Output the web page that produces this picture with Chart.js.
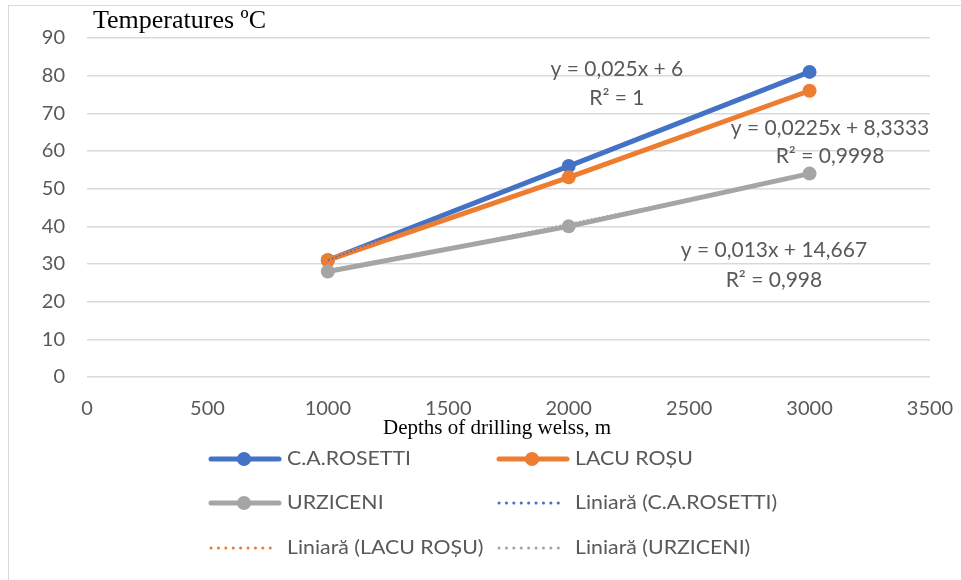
<!DOCTYPE html>
<html>
<head>
<meta charset="utf-8">
<script src="https://cdn.jsdelivr.net/npm/chart.js@4"></script>
<style>
  body { margin: 0; background: #fff; }
  .frame { position: absolute; left: 8px; top: 5px; width: 1200px; height: 900px; border: 1px solid #d9d9d9; }
  .wrap { position: absolute; left: 0; top: 0; width: 961px; height: 580px; }
</style>
</head>
<body>
<div class="frame"></div>
<div class="wrap"><canvas id="myChart" width="961" height="580"></canvas></div>
<script>
// depths (m) and measured temperatures (ºC)
const depths = [1000, 2000, 3000];
const rosetti = [31, 56, 81];
const lacuRosu = [31, 53, 76];
const urziceni = [28, 40, 54];

// linear trend values
const rosettiTrend = [31, 56, 81];
const lacuTrend = [30.8, 53.3, 75.8];
const urziTrend = [27.7, 40.7, 53.7];

const seriesNames = ['C.A.ROSETTI', 'LACU ROȘU', 'URZICENI'];
const trendNames = ['Liniară (C.A.ROSETTI)', 'Liniară (LACU ROȘU)', 'Liniară (URZICENI)'];
const equations = ['y = 0,025x + 6', 'y = 0,0225x + 8,3333', 'y = 0,013x + 14,667'];
const rSquared = ['R² = 1', 'R² = 0,9998', 'R² = 0,998'];

const yTitle = 'Temperatures ºC';
const xTitle = 'Depths of drilling welss, m';

const colors = ['#4472C4', '#ED7D31', '#A5A5A5'];
const textGray = '#595959';
const sansFont = 'Lato, "Open Sans", sans-serif';
const serifFont = '"Liberation Serif", "DejaVu Serif", serif';

function pts(ys) {
	return depths.map((d, i) => ({ x: d, y: ys[i] }));
}

const values = [rosetti, lacuRosu, urziceni];
const trends = [rosettiTrend, lacuTrend, urziTrend];

const datasets = [];
values.forEach((v, i) => {
	datasets.push({
		label: seriesNames[i],
		data: pts(v),
		borderColor: colors[i],
		backgroundColor: colors[i],
		borderWidth: 5,
		pointRadius: 7,
		pointBorderWidth: 0,
		order: 4 - i,
	});
});
trends.forEach((v, i) => {
	datasets.push({
		label: trendNames[i],
		data: pts(v),
		borderColor: colors[i],
		borderWidth: 1.5,
		borderDash: [2, 2],
		pointRadius: 0,
		order: 0,
	});
});

// where equation labels sit (data coords: x, y of first line, y of second line)
const eqAnchors = [
	[2200, 81.8, 74.1],
	[3085, 66.1, 58.5],
	[2852, 33.7, 25.8],
];

// legend layout
const legendCols = [209, 497];
const legendRows = [459, 503, 548];
const legendStretch = 124; // px width of "C.A.ROSETTI" in the source
const legendItems = [
	{ name: seriesNames[0], c: 0, trend: false, col: 0, row: 0 },
	{ name: seriesNames[1], c: 1, trend: false, col: 1, row: 0 },
	{ name: seriesNames[2], c: 2, trend: false, col: 0, row: 1 },
	{ name: trendNames[0], c: 0, trend: true, col: 1, row: 1 },
	{ name: trendNames[1], c: 1, trend: true, col: 0, row: 2 },
	{ name: trendNames[2], c: 2, trend: true, col: 1, row: 2 },
];

const decor = {
	id: 'decor',
	afterDraw(chart) {
		const ctx = chart.ctx;
		const xs = chart.scales.x;
		const ys = chart.scales.y;
		ctx.save();

		// axis titles
		ctx.fillStyle = '#000';
		ctx.textBaseline = 'middle';
		ctx.textAlign = 'left';
		ctx.font = '26px ' + serifFont;
		ctx.fillText(yTitle, 93, 21);
		ctx.textAlign = 'center';
		ctx.font = '21px ' + serifFont;
		ctx.fillText(xTitle, 497, 428);

		// trendline equations
		ctx.fillStyle = textGray;
		ctx.font = '21px ' + sansFont;
		eqAnchors.forEach((a, i) => {
			const px = xs.getPixelForValue(a[0]);
			ctx.fillText(equations[i], px, ys.getPixelForValue(a[1]));
			ctx.fillText(rSquared[i], px, ys.getPixelForValue(a[2]));
		});

		// legend (the source text is a bit stretched sideways)
		ctx.textAlign = 'left';
		ctx.font = '20px ' + sansFont;
		const k = legendStretch / ctx.measureText(seriesNames[0]).width;
		legendItems.forEach((it) => {
			const x0 = legendCols[it.col];
			const y = legendRows[it.row];
			ctx.strokeStyle = colors[it.c];
			ctx.fillStyle = colors[it.c];
			if (it.trend) {
				ctx.lineWidth = 3;
				ctx.lineCap = 'round';
				ctx.setLineDash([0.1, 7.3]);
				ctx.beginPath();
				ctx.moveTo(x0 + 2, y);
				ctx.lineTo(x0 + 68, y);
				ctx.stroke();
				ctx.setLineDash([]);
			} else {
				ctx.lineWidth = 5;
				ctx.lineCap = 'round';
				ctx.beginPath();
				ctx.moveTo(x0 + 2, y);
				ctx.lineTo(x0 + 70, y);
				ctx.stroke();
				ctx.beginPath();
				ctx.arc(x0 + 35, y, 7, 0, Math.PI * 2);
				ctx.fill();
			}
			ctx.fillStyle = textGray;
			ctx.save();
			ctx.translate(x0 + 78, y);
			ctx.scale(k, 1);
			ctx.fillText(it.name, 0, 0);
			ctx.restore();
		});
		ctx.restore();
	},
};

var chartArea = document.getElementById('myChart').getContext('2d');
var myChart = new Chart(chartArea, {
	type: 'line',
	data: { datasets: datasets },
	plugins: [decor],
	options: {
		responsive: false,
		animation: false,
		layout: { padding: { left: 0, right: 31, top: 38, bottom: 163 } },
		plugins: {
			legend: { display: false },
			tooltip: { enabled: false },
		},
		scales: {
			x: {
				type: 'linear',
				min: 0,
				max: 3500,
				afterFit: (s) => { s.height = 40; s.paddingRight = 0; s.paddingLeft = 0; },
				grid: { display: false },
				border: { display: false },
				ticks: {
					stepSize: 500,
					color: textGray,
					font: { family: sansFont, size: 20 },
					padding: 12,
					maxRotation: 0,
					callback: (v) => String(v),
				},
			},
			y: {
				min: 0,
				max: 90,
				afterFit: (s) => { s.width = 87; },
				grid: { color: '#d9d9d9', lineWidth: 1.5, drawTicks: false },
				border: { display: false },
				ticks: {
					stepSize: 10,
					color: textGray,
					font: { family: sansFont, size: 20 },
					padding: 22,
				},
			},
		},
	},
});
</script>
</body>
</html>
